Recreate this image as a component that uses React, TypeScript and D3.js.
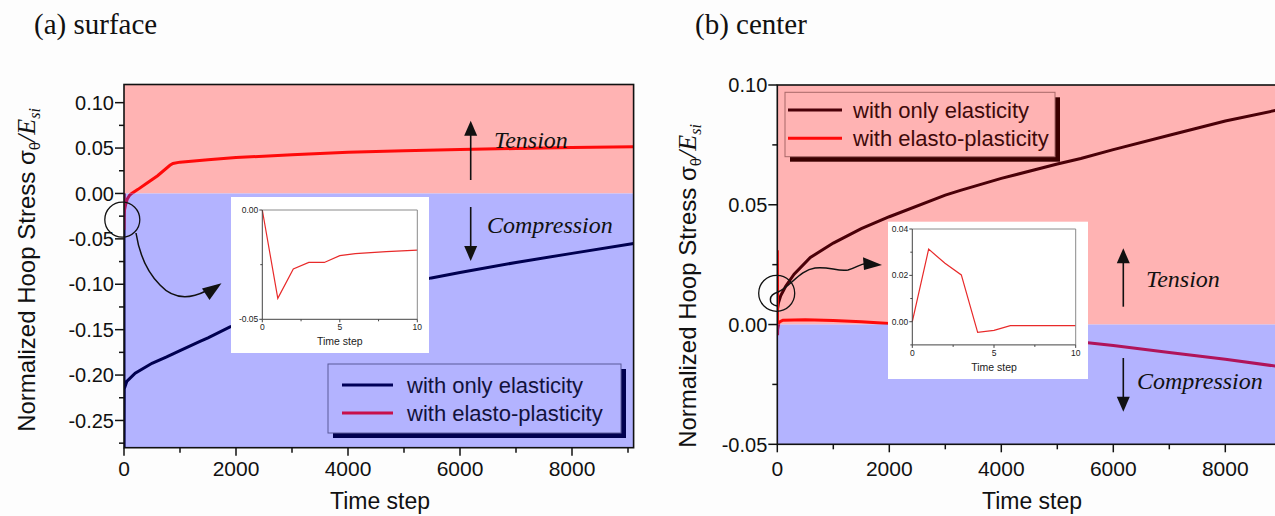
import React from 'react';
import * as d3 from 'd3';

const SANS = "'Liberation Sans', Arial, Helvetica, sans-serif";
const SERIF = "'Liberation Serif', 'Times New Roman', serif";

// ---------------- data ----------------
const xTicks = [0, 2000, 4000, 6000, 8000];
const xMinorTicks = [1000, 3000, 5000, 7000, 9000];

// (a) surface
const surfElasticTime = [0, 1, 5, 50, 200, 500, 762, 1000, 1357, 1500, 1893, 2000, 3000, 4000, 5000, 5489, 6000, 7000, 8000, 9100];
const surfElasticStress = [0, -0.3, -0.215, -0.207, -0.198, -0.187, -0.18, -0.173, -0.163, -0.159, -0.147, -0.145, -0.128, -0.113, -0.1, -0.093, -0.087, -0.076, -0.066, -0.055];
const surfPlasticTime = [0, 1, 2, 5, 10, 30, 60, 100, 137, 250, 400, 600, 820, 875, 1000, 1500, 2000, 3000, 4000, 5000, 6000, 7000, 8000, 9100];
const surfPlasticStress = [0, -0.04, -0.027, -0.021, -0.018, -0.012, -0.006, -0.002, 0, 0.0045, 0.011, 0.0195, 0.031, 0.033, 0.0345, 0.037, 0.0395, 0.0425, 0.0455, 0.047, 0.0485, 0.0495, 0.0505, 0.0515];
const surfYTicks = [-0.25, -0.2, -0.15, -0.1, -0.05, 0, 0.05, 0.1];
const surfYMinor = [-0.275, -0.225, -0.175, -0.125, -0.075, -0.025, 0.025, 0.075];

// (b) center
const centElasticTime = [0, 20, 60, 150, 300, 590, 1000, 1500, 2000, 3000, 3270, 4000, 5000, 5420, 6000, 7000, 8000, 8920, 9100];
const centElasticStress = [0.006, 0.009, 0.012, 0.016, 0.021, 0.028, 0.034, 0.04, 0.045, 0.054, 0.056, 0.061, 0.067, 0.0693, 0.073, 0.079, 0.085, 0.0895, 0.0905];
const centPlasticTime = [0, 1, 2, 3, 4, 5, 6, 10, 30, 100, 500, 1000, 1500, 2000, 3000, 4000, 5000, 5420, 6000, 7000, 8000, 9100];
const centPlasticStress = [0, 0.031, 0.025, 0.02, -0.0045, -0.0035, -0.0017, -0.0017, 0.001, 0.0018, 0.002, 0.0017, 0.0012, 0.0004, -0.0018, -0.0042, -0.0063, -0.0073, -0.0088, -0.0117, -0.0145, -0.018];
const centYTicks = [-0.05, 0, 0.05, 0.1];
const centYMinor = [-0.025, 0.025, 0.075];

// insets
const insetStep = [0, 1, 2, 3, 4, 5, 6, 7, 8, 9, 10];
const insetSurfStress = [0, -0.0404, -0.027, -0.024, -0.024, -0.0209, -0.02, -0.0195, -0.019, -0.0187, -0.0184];
const insetCentStress = [0, 0.0313, 0.0252, 0.0202, -0.0046, -0.0037, -0.0017, -0.0017, -0.0017, -0.0017, -0.0017];
const insetXTicks = [0, 5, 10];
const insetXMinor = [2.5, 7.5];
const insetSurfYTicks = [0, -0.05];
const insetSurfYMinor = [-0.025];
const insetCentYTicks = [0, 0.02, 0.04];
const insetCentYMinor = [-0.01, 0.01, 0.03];

const legendLabels = ['with only elasticity', 'with elasto-plasticity'];

const PINK = '#ffb3b3';
const BLUE = '#b3b3ff';

type Pt = [number, number];
const zip = (a: number[], b: number[]): Pt[] => a.map((v, i) => [v, b[i]]);
const fmt2 = (v: number) => (Math.abs(v) < 1e-9 ? '0.00' : v.toFixed(2));

function Panel(props: any) {
  const c = props.cfg;
  const x = d3.scaleLinear().domain([0, 9100]).range(c.xRange);
  const y = d3.scaleLinear().domain(c.yDomain).range(c.yRange);
  const [x0, x1] = c.xRange;
  const yb = c.yRange[0];
  const yt = c.yRange[1];
  const yz = y(0);
  const line = d3.line<Pt>().x((d) => x(d[0])).y((d) => y(d[1]));
  const elastic = line(zip(c.elasticT, c.elasticV)) || '';
  const plastic = line(zip(c.plasticT, c.plasticV)) || '';
  const id = c.id;
  return (
    <g>
      <defs>
        <clipPath id={`${id}-above`}>
          <rect x={x0} y={yt} width={x1 - x0} height={yz - yt} />
        </clipPath>
        <clipPath id={`${id}-below`}>
          <rect x={x0} y={yz} width={x1 - x0} height={yb - yz} />
        </clipPath>
      </defs>
      <rect x={x0} y={yt} width={x1 - x0} height={yz - yt} fill={PINK} />
      <rect x={x0} y={yz} width={x1 - x0} height={yb - yz} fill={BLUE} />
      {/* lines */}
      <path d={elastic} fill="none" stroke={c.elasticAbove} strokeWidth={3} clipPath={`url(#${id}-above)`} />
      <path d={elastic} fill="none" stroke={c.elasticBelow} strokeWidth={3} clipPath={`url(#${id}-below)`} />
      <path d={plastic} fill="none" stroke="#ff0a0a" strokeWidth={3} clipPath={`url(#${id}-above)`} />
      <path d={plastic} fill="none" stroke="#b0145a" strokeWidth={3} clipPath={`url(#${id}-below)`} />
      {/* frame */}
      <rect x={x0} y={yt} width={x1 - x0} height={yb - yt} fill="none" stroke="#111" strokeWidth={1.6} />
      {/* y ticks */}
      {c.yTicks.map((v: number) => (
        <g key={'yt' + v}>
          <line x1={x0 - 9} x2={x0} y1={y(v)} y2={y(v)} stroke="#111" strokeWidth={1.5} />
          <text x={x0 - 10} y={y(v)} dy="0.36em" textAnchor="end" fontFamily={SANS} fontSize={20} fill="#111">
            {fmt2(v)}
          </text>
        </g>
      ))}
      {c.yMinor.map((v: number) => (
        <line key={'ym' + v} x1={x0 - 5} x2={x0} y1={y(v)} y2={y(v)} stroke="#111" strokeWidth={1.5} />
      ))}
      {/* x ticks */}
      {xTicks.map((v) => (
        <g key={'xt' + v}>
          <line x1={x(v)} x2={x(v)} y1={yb} y2={yb + 8} stroke="#111" strokeWidth={1.5} />
          <text x={x(v)} y={476} textAnchor="middle" fontFamily={SANS} fontSize={21} fill="#111">
            {String(v)}
          </text>
        </g>
      ))}
      {xMinorTicks.map((v) => (
        <line key={'xm' + v} x1={x(v)} x2={x(v)} y1={yb} y2={yb + 5} stroke="#111" strokeWidth={1.5} />
      ))}
      {/* axis titles */}
      <text x={c.xTitleX} y={509} textAnchor="middle" fontFamily={SANS} fontSize={23} fill="#111">
        Time step
      </text>
      <text transform={`translate(${c.yTitleX},${c.yTitleY}) rotate(-90)`} textAnchor="middle" fontFamily={SANS} fontSize={24} fill="#111">
        <tspan>Normalized Hoop Stress </tspan>
        <tspan>σ</tspan>
        <tspan fontSize={15} dy={5}>θ</tspan>
        <tspan dy={-5} fontFamily={SERIF} fontStyle="italic" fontSize={26}>/</tspan>
        <tspan fontFamily={SERIF} fontStyle="italic" fontSize={26}>E</tspan>
        <tspan fontFamily={SERIF} fontStyle="italic" fontSize={16} dy={5}>si</tspan>
      </text>
      <text x={c.titleX} y={34} fontFamily={SERIF} fontSize={29} fill="#111">
        {c.title}
      </text>
    </g>
  );
}

function Legend(props: any) {
  const l = props.cfg;
  const w = l.x1 - l.x0;
  const h = l.y1 - l.y0;
  return (
    <g>
      <rect x={l.x0 + 5} y={l.y0 + 5} width={w} height={h} fill={l.shadow} />
      <rect x={l.x0} y={l.y0} width={w} height={h} fill={l.bg} stroke={l.border} strokeWidth={1} />
      {legendLabels.map((lab, i) => (
        <g key={lab}>
          <line x1={l.lx0} x2={l.lx1} y1={l.rows[i]} y2={l.rows[i]} stroke={l.colors[i]} strokeWidth={3} />
          <text x={l.tx} y={l.rows[i] + 7.5} fontFamily={SANS} fontSize={22} fill={l.text}>
            {lab}
          </text>
        </g>
      ))}
    </g>
  );
}

function Inset(props: any) {
  const c = props.cfg;
  const x = d3.scaleLinear().domain([0, 10]).range(c.xRange);
  const y = d3.scaleLinear().domain(c.yDomain).range(c.yRange);
  const [x0, x1] = c.xRange;
  const yb = c.yRange[0];
  const yt = c.yRange[1];
  const line = d3.line<Pt>().x((d) => x(d[0])).y((d) => y(d[1]));
  return (
    <g>
      <rect x={c.box[0]} y={c.box[1]} width={c.box[2]} height={c.box[3]} fill="#ffffff" />
      <path d={line(zip(insetStep, c.data)) || ''} fill="none" stroke="#e82a2a" strokeWidth={1.2} />
      <line x1={x0} x2={x1} y1={yt} y2={yt} stroke="#8a8a8a" strokeWidth={1} />
      <line x1={x1} x2={x1} y1={yt} y2={yb} stroke="#8a8a8a" strokeWidth={1} />
      <line x1={x0} x2={x0} y1={yt} y2={yb} stroke="#444" strokeWidth={1} />
      <line x1={x0} x2={x1} y1={yb} y2={yb} stroke="#444" strokeWidth={1} />
      {c.yTicks.map((v: number) => (
        <g key={'iy' + v}>
          <line x1={x0 - 3} x2={x0} y1={y(v)} y2={y(v)} stroke="#444" />
          <text x={x0 - 4} y={y(v)} dy="0.35em" textAnchor="end" fontFamily={SANS} fontSize={8.5} fill="#222">
            {fmt2(v)}
          </text>
        </g>
      ))}
      {c.yMinor.map((v: number) => (
        <line key={'iym' + v} x1={x0 - 2} x2={x0} y1={y(v)} y2={y(v)} stroke="#444" />
      ))}
      {insetXTicks.map((v) => (
        <g key={'ix' + v}>
          <line x1={x(v)} x2={x(v)} y1={yb} y2={yb + 3} stroke="#444" />
          <text x={x(v)} y={yb + 11} textAnchor="middle" fontFamily={SANS} fontSize={8.5} fill="#222">
            {String(v)}
          </text>
        </g>
      ))}
      {insetXMinor.map((v) => (
        <line key={'ixm' + v} x1={x(v)} x2={x(v)} y1={yb} y2={yb + 2} stroke="#444" />
      ))}
      <text x={(x0 + x1) / 2} y={yb + 26} textAnchor="middle" fontFamily={SANS} fontSize={10.5} fill="#222">
        Time step
      </text>
    </g>
  );
}

function StressArrows(props: any) {
  const a = props.cfg;
  return (
    <g>
      <line x1={a.x} x2={a.x} y1={a.upFrom} y2={a.upTip + 12} stroke="#111" strokeWidth={1.6} />
      <path d={`M${a.x},${a.upTip} L${a.x - 6.5},${a.upTip + 15} L${a.x + 6.5},${a.upTip + 15} Z`} fill="#111" />
      <line x1={a.x} x2={a.x} y1={a.downFrom} y2={a.downTip - 12} stroke="#111" strokeWidth={1.6} />
      <path d={`M${a.x},${a.downTip} L${a.x - 6.5},${a.downTip - 15} L${a.x + 6.5},${a.downTip - 15} Z`} fill="#111" />
      <text x={a.tx} y={a.ty} fontFamily={SERIF} fontStyle="italic" fontSize={24} fill="#111">Tension</text>
      <text x={a.cx} y={a.cy} fontFamily={SERIF} fontStyle="italic" fontSize={24} fill="#111">Compression</text>
    </g>
  );
}

const surfCfg = {
  id: 'surf',
  xRange: [124, 633.6],
  yDomain: [-0.28, 0.12],
  yRange: [447.7, 84.5],
  elasticT: surfElasticTime,
  elasticV: surfElasticStress,
  plasticT: surfPlasticTime,
  plasticV: surfPlasticStress,
  elasticAbove: '#000050',
  elasticBelow: '#000050',
  yTicks: surfYTicks,
  yMinor: surfYMinor,
  xTitleX: 380,
  yTitleX: 35,
  yTitleY: 270,
  titleX: 34,
  title: '(a) surface',
};

const centCfg = {
  id: 'cent',
  xRange: [777.3, 1286.9],
  yDomain: [-0.05, 0.1],
  yRange: [444.3, 85],
  elasticT: centElasticTime,
  elasticV: centElasticStress,
  plasticT: centPlasticTime,
  plasticV: centPlasticStress,
  elasticAbove: '#4a0008',
  elasticBelow: '#000050',
  yTicks: centYTicks,
  yMinor: centYMinor,
  xTitleX: 1032,
  yTitleX: 696,
  yTitleY: 286,
  titleX: 695,
  title: '(b) center',
};

const surfLegend = {
  x0: 328, x1: 621, y0: 364, y1: 433,
  lx0: 342, lx1: 393, tx: 407, rows: [385, 413],
  colors: ['#000058', '#c8104a'],
  bg: BLUE, border: '#5a5a9a', shadow: '#000050', text: '#12123c',
};
const centLegend = {
  x0: 785, x1: 1055, y0: 92.3, y1: 156.7,
  lx0: 788, lx1: 842, tx: 853, rows: [110, 138.3],
  colors: ['#4a0008', '#ff0a0a'],
  bg: PINK, border: '#a86868', shadow: '#3a0000', text: '#3e0a0a',
};

const surfInset = {
  box: [231, 197, 198, 156],
  xRange: [262.3, 417.3],
  yDomain: [-0.05, 0],
  yRange: [319.3, 210],
  data: insetSurfStress,
  yTicks: insetSurfYTicks,
  yMinor: insetSurfYMinor,
};
const centInset = {
  box: [888, 221.7, 200, 157.3],
  xRange: [912.3, 1075.7],
  yDomain: [-0.01, 0.04],
  yRange: [344.9, 229],
  data: insetCentStress,
  yTicks: insetCentYTicks,
  yMinor: insetCentYMinor,
};

const surfArrows = { x: 470.7, upFrom: 180, upTip: 120.7, downFrom: 207, downTip: 261, tx: 494, ty: 148, cx: 487, cy: 233 };
const centArrows = { x: 1123.3, upFrom: 306.7, upTip: 248.3, downFrom: 358, downTip: 411.7, tx: 1146, ty: 287, cx: 1137, cy: 388.5 };

export default function App() {
  return (
    <svg width={1275} height={516} viewBox="0 0 1275 516" style={{ position: 'absolute', left: 0, top: 0, background: '#fdfdfd' }}>
      <rect x={0} y={0} width={1275} height={516} fill="#fdfdfd" />
      <Panel cfg={surfCfg} />
      <Panel cfg={centCfg} />
      <Inset cfg={surfInset} />
      <Inset cfg={centInset} />
      <Legend cfg={surfLegend} />
      <Legend cfg={centLegend} />
      <StressArrows cfg={surfArrows} />
      <StressArrows cfg={centArrows} />
      {/* zoom circles and curly arrows */}
      <circle cx={122.3} cy={219.7} r={17.5} fill="none" stroke="#111" strokeWidth={1.3} />
      <path d="M136,233 C139,252 147,272 160,285 C172,298 188,300 206,291" fill="none" stroke="#111" strokeWidth={1.5} />
      <path d="M221.5,283.3 L202,288.5 L209.5,300 Z" fill="#111" />
      <circle cx={776.7} cy={293.3} r={18} fill="none" stroke="#111" strokeWidth={1.3} />
      <path d="M777,306 C768,304 768,295 778,292 C790,287 800,270 815,268 C828,266 838,272 848,270 C856,268 860,264 866,263.5" fill="none" stroke="#111" strokeWidth={1.5} />
      <path d="M882,265 L863,257.3 L864,270 Z" fill="#111" />
    </svg>
  );
}
